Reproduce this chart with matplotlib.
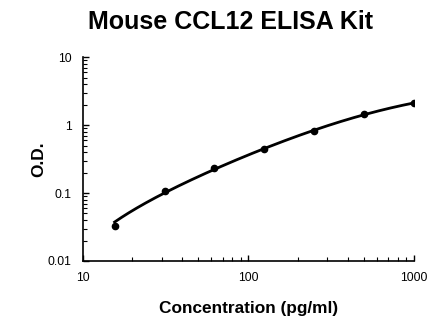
import numpy as np
import matplotlib
matplotlib.use("Agg")
import matplotlib.pyplot as plt
from matplotlib.ticker import LogLocator, NullFormatter

plt.rcParams['font.family'] = ['Liberation Sans', 'DejaVu Sans']

conc = [15.625, 31.25, 62.5, 125, 250, 500, 1000]
od = [0.033, 0.106, 0.235, 0.443, 0.824, 1.44, 2.11]
title = "Mouse CCL12 ELISA Kit"
xlabel = "Concentration (pg/ml)"
ylabel = "O.D."
xticks = [10, 100, 1000]
xticklabels = ["10", "100", "1000"]
yticks = [0.01, 0.1, 1, 10]
yticklabels = ["0.01", "0.1", "1", "10"]


def four_pl(x, p):
    a, b, c, d = p
    return d + (a - d) / (1.0 + (x / c) ** b)


def fit_4pl(x, y, wpow=0.5):
    x = np.asarray(x, float)
    y = np.asarray(y, float)
    w = 1.0 / y ** wpow
    p = np.array([0.0, 1.0, 500.0, 3.0])
    lam = 1e-3

    def res(pp):
        return (y - four_pl(x, pp)) * w

    for _ in range(800):
        r = res(p)
        J = np.empty((len(x), 4))
        for i in range(4):
            dp = np.zeros(4)
            dp[i] = 1e-6 * max(abs(p[i]), 1e-3)
            J[:, i] = (four_pl(x, p + dp) - four_pl(x, p - dp)) / (2 * dp[i]) * w
        A = J.T @ J
        g = J.T @ r
        step = np.linalg.solve(A + lam * np.diag(np.diag(A) + 1e-12), g)
        pn = p + step
        if np.all(np.isfinite(pn)) and pn[2] > 0 and np.sum(res(pn) ** 2) < np.sum(r ** 2):
            p = pn
            lam *= 0.5
        else:
            lam *= 4
    return p


fig = plt.figure(figsize=(4.46, 3.34), dpi=100)
ax = fig.add_axes([0.185, 0.2186, 0.743, 0.6104])

params = fit_4pl(conc, od, 0.25)
xs = np.logspace(np.log10(conc[0]), np.log10(conc[-1]), 300)
ax.plot(xs, four_pl(xs, params), color='black', lw=2)
ax.plot(conc, od, 'o', color='black', ms=4.5)

ax.set_xscale('log')
ax.set_yscale('log')
ax.set_xlim(10, 1000)
ax.set_ylim(0.01, 10)
ax.set_xticks(xticks)
ax.set_xticklabels(xticklabels)
ax.set_yticks(yticks)
ax.set_yticklabels(yticklabels)
ax.xaxis.set_minor_locator(LogLocator(base=10, subs=np.arange(2, 10)))
ax.yaxis.set_minor_locator(LogLocator(base=10, subs=np.arange(2, 10)))
ax.xaxis.set_minor_formatter(NullFormatter())
ax.yaxis.set_minor_formatter(NullFormatter())

for s in ['top', 'right']:
    ax.spines[s].set_visible(False)
for s in ['left', 'bottom']:
    ax.spines[s].set_linewidth(1.2)

ax.tick_params(axis='both', which='major', direction='in', length=4, width=1, labelsize=8.7, pad=8)
ax.tick_params(axis='both', which='minor', direction='in', length=3, width=0.8)

ax.set_xlabel(xlabel, fontsize=12.4, fontweight='bold', labelpad=12)
ax.set_ylabel(ylabel, fontsize=12.4, fontweight='bold', labelpad=1)
fig.suptitle(title, fontsize=18, fontweight='bold', x=0.517, y=0.97)

fig.savefig("out.png", dpi=100)
